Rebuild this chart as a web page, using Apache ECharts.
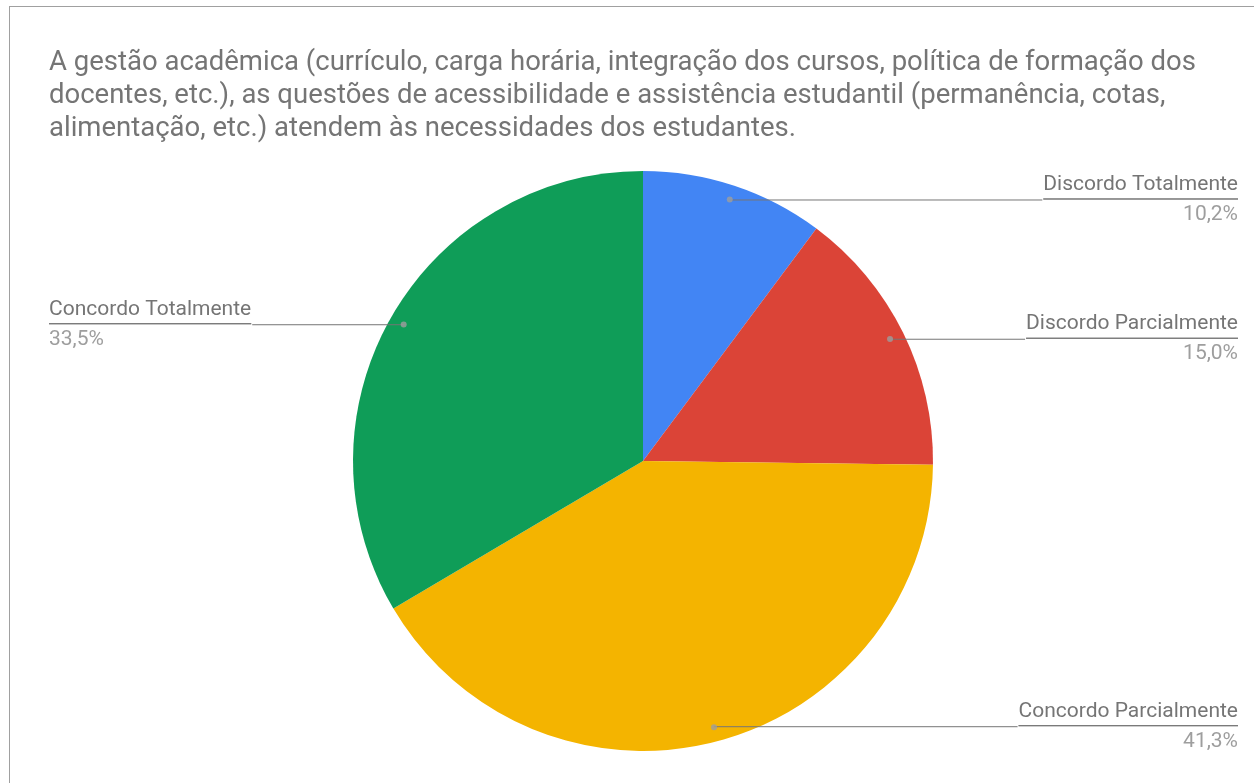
<!DOCTYPE html>
<html>
<head>
<meta charset="utf-8">
<script src="https://cdn.jsdelivr.net/npm/echarts@6/dist/echarts.min.js"></script>
<style>
  html, body { margin: 0; padding: 0; background: #fff; }
  #wrap { position: relative; width: 1254px; height: 783px; overflow: hidden; }
  #chart { width: 1254px; height: 783px; }
  #frame { position: absolute; left: 9px; top: 6px; width: 1400px; height: 900px;
           border: 1px solid #a0a0a0; pointer-events: none; }
</style>
</head>
<body>
<div id="wrap">
  <div id="chart"></div>
  <div id="frame"></div>
</div>
<script>
const titleText = 'A gestão acadêmica (currículo, carga horária, integração dos cursos, política de formação dos\ndocentes, etc.), as questões de acessibilidade e assistência estudantil (permanência, cotas,\nalimentação, etc.) atendem às necessidades dos estudantes.';
const categories = ['Discordo Totalmente', 'Discordo Parcialmente', 'Concordo Parcialmente', 'Concordo Totalmente'];
const percentages = [10.2, 15.0, 41.3, 33.5];
const colors = ['#4285f4', '#db4437', '#f4b400', '#0f9d58'];

const total = percentages.reduce((a, b) => a + b, 0);
// angle midpoints (0-100 scale) of each slice, for the marker dots
const mids = [];
let acc = 0;
percentages.forEach(v => {
  mids.push((acc + v / 2) / total * 100);
  acc += v;
});

const chart = echarts.init(document.getElementById('chart'));

const labelData = categories.map((name, i) => {
  const right = mids[i] < 50;
  return {
    name,
    value: percentages[i],
    label: {
      edgeDistance: right ? 16 : 49,
      rich: {
        name: { fontSize: 21, color: '#757575', lineHeight: 30, padding: [2, 0, 0, 0], align: right ? 'right' : 'left' },
        hr: { borderColor: '#757575', width: '100%', borderWidth: 1, height: 0 },
        pct: { fontSize: 21, color: '#9e9e9e', lineHeight: 32, align: right ? 'right' : 'left' }
      }
    }
  };
});

chart.setOption({
  textStyle: { fontFamily: 'Roboto' },
  title: {
    text: titleText,
    left: 49,
    top: 47,
    padding: 0,
    textStyle: { fontSize: 27.5, fontWeight: 'normal', color: '#757575', lineHeight: 33, fontFamily: 'Roboto' }
  },
  polar: { center: [643, 461], radius: 290 },
  angleAxis: { type: 'value', min: 0, max: 100, startAngle: 90, clockwise: true, show: false },
  radiusAxis: { type: 'value', min: 0, max: 1, show: false },
  series: [
    {
      type: 'pie',
      center: [643, 461],
      radius: 290,
      startAngle: 90,
      silent: true,
      z: 2,
      label: { show: false },
      labelLine: { show: false },
      itemStyle: { borderWidth: 0 },
      data: categories.map((name, i) => ({ name, value: percentages[i], itemStyle: { color: colors[i] } }))
    },
    {
      type: 'pie',
      center: [643, 461],
      radius: 275,
      startAngle: 90,
      silent: true,
      z: 3,
      itemStyle: { color: 'rgba(0,0,0,0)' },
      label: {
        show: true,
        alignTo: 'edge',
        distanceToLabelLine: 0,
        fontFamily: 'Roboto',
        formatter: p => '{name|' + p.name + '}\n{hr|}\n{pct|' + p.value.toFixed(1).replace('.', ',') + '%}'
      },
      labelLine: { show: true, length: 0, length2: 0, lineStyle: { color: '#757575', width: 1 } },
      data: labelData
    },
    {
      type: 'scatter',
      coordinateSystem: 'polar',
      z: 4,
      silent: true,
      symbolSize: 6,
      itemStyle: { color: '#9e9e9e' },
      data: mids.map(m => [0.95, m])
    }
  ]
});
</script>
</body>
</html>
